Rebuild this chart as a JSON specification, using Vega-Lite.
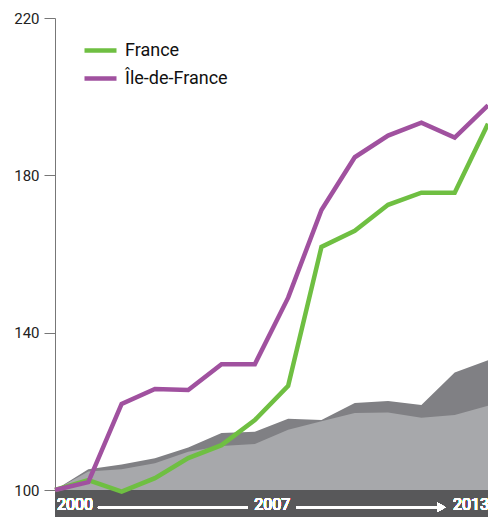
{
  "$schema": "https://vega.github.io/schema/vega-lite/v6.json",
  "width": 433,
  "height": 499,
  "autosize": {"type": "none"},
  "padding": {"left": 55, "top": 18, "right": 0, "bottom": 0},
  "background": "white",
  "config": {"view": {"stroke": null}, "font": "Roboto"},
  "data": {
    "values": [
      {"year": 2000, "series": "upper", "value": 100},
      {"year": 2001, "series": "upper", "value": 105.3},
      {"year": 2002, "series": "upper", "value": 106.5},
      {"year": 2003, "series": "upper", "value": 108.1},
      {"year": 2004, "series": "upper", "value": 110.8},
      {"year": 2005, "series": "upper", "value": 114.5},
      {"year": 2006, "series": "upper", "value": 114.8},
      {"year": 2007, "series": "upper", "value": 118.1},
      {"year": 2008, "series": "upper", "value": 117.8},
      {"year": 2009, "series": "upper", "value": 122.1},
      {"year": 2010, "series": "upper", "value": 122.6},
      {"year": 2011, "series": "upper", "value": 121.6},
      {"year": 2012, "series": "upper", "value": 129.9},
      {"year": 2013, "series": "upper", "value": 133.0},
      {"year": 2000, "series": "lower", "value": 100},
      {"year": 2001, "series": "lower", "value": 104.7},
      {"year": 2002, "series": "lower", "value": 105.3},
      {"year": 2003, "series": "lower", "value": 106.8},
      {"year": 2004, "series": "lower", "value": 109.7},
      {"year": 2005, "series": "lower", "value": 111.2},
      {"year": 2006, "series": "lower", "value": 111.7},
      {"year": 2007, "series": "lower", "value": 115.3},
      {"year": 2008, "series": "lower", "value": 117.5},
      {"year": 2009, "series": "lower", "value": 119.6},
      {"year": 2010, "series": "lower", "value": 119.7},
      {"year": 2011, "series": "lower", "value": 118.4},
      {"year": 2012, "series": "lower", "value": 119.1},
      {"year": 2013, "series": "lower", "value": 121.4},
      {"year": 2000, "series": "France", "value": 100},
      {"year": 2001, "series": "France", "value": 102.5},
      {"year": 2002, "series": "France", "value": 99.6},
      {"year": 2003, "series": "France", "value": 103},
      {"year": 2004, "series": "France", "value": 108.1},
      {"year": 2005, "series": "France", "value": 111.4},
      {"year": 2006, "series": "France", "value": 117.8},
      {"year": 2007, "series": "France", "value": 126.5},
      {"year": 2008, "series": "France", "value": 161.8},
      {"year": 2009, "series": "France", "value": 165.9},
      {"year": 2010, "series": "France", "value": 172.5},
      {"year": 2011, "series": "France", "value": 175.6},
      {"year": 2012, "series": "France", "value": 175.6},
      {"year": 2013, "series": "France", "value": 193.1},
      {"year": 2000, "series": "Île-de-France", "value": 100},
      {"year": 2001, "series": "Île-de-France", "value": 102},
      {"year": 2002, "series": "Île-de-France", "value": 121.9},
      {"year": 2003, "series": "Île-de-France", "value": 125.7},
      {"year": 2004, "series": "Île-de-France", "value": 125.4},
      {"year": 2005, "series": "Île-de-France", "value": 132},
      {"year": 2006, "series": "Île-de-France", "value": 132},
      {"year": 2007, "series": "Île-de-France", "value": 148.9},
      {"year": 2008, "series": "Île-de-France", "value": 171.2},
      {"year": 2009, "series": "Île-de-France", "value": 184.6},
      {"year": 2010, "series": "Île-de-France", "value": 190.1},
      {"year": 2011, "series": "Île-de-France", "value": 193.4},
      {"year": 2012, "series": "Île-de-France", "value": 189.6},
      {"year": 2013, "series": "Île-de-France", "value": 197.8}
    ]
  },
  "encoding": {
    "x": {"field": "year", "type": "quantitative", "scale": {"domain": [2000, 2013], "nice": false, "zero": false}, "axis": null},
    "y": {
      "field": "value", "type": "quantitative",
      "scale": {"domain": [93.136, 220], "nice": false, "zero": false},
      "axis": {
        "title": null, "values": [100, 140, 180, 220], "grid": false,
        "tickSize": 11, "tickColor": "#777777", "domainColor": "#777777",
        "labelFontSize": 15, "labelColor": "#222222", "labelPadding": 5,
        "labelFont": "Roboto"
      }
    }
  },
  "layer": [
    {
      "transform": [{"filter": "datum.series === 'upper'"}],
      "mark": {"type": "area", "color": "#808084", "opacity": 1},
      "encoding": {"y2": {"datum": 100}}
    },
    {
      "transform": [{"filter": "datum.series === 'lower'"}],
      "mark": {"type": "area", "color": "#a7a8ab", "opacity": 1},
      "encoding": {"y2": {"datum": 100}}
    },
    {
      "mark": {"type": "rect", "color": "#58585a"},
      "encoding": {
        "x": {"datum": 2000}, "x2": {"datum": 2013},
        "y": {"datum": 100}, "y2": {"datum": 93.136}
      }
    },
    {
      "transform": [{"filter": "datum.series === 'France' || datum.series === 'Île-de-France'"}],
      "mark": {"type": "line", "strokeWidth": 4.5, "strokeJoin": "miter", "strokeCap": "butt"},
      "encoding": {
        "color": {
          "field": "series", "type": "nominal",
          "scale": {"domain": ["France", "Île-de-France"], "range": ["#6fbf42", "#a0519f"]},
          "legend": {
            "title": null, "orient": "none", "legendX": 27, "legendY": 14,
            "symbolType": "stroke", "symbolSize": 1024, "symbolStrokeWidth": 4.5,
            "labelFontSize": 18, "labelFont": "Roboto", "labelColor": "#111111",
            "labelOffset": 6, "rowPadding": -9, "padding": 0
          }
        },
        "order": {"field": "series"}
      }
    },
    {
      "mark": {"type": "rule", "color": "white", "strokeWidth": 2},
      "encoding": {
        "x": {"datum": 2001.29}, "x2": {"datum": 2005.78},
        "y": {"datum": 95.6}
      }
    },
    {
      "mark": {"type": "rule", "color": "white", "strokeWidth": 2},
      "encoding": {
        "x": {"datum": 2007.25}, "x2": {"datum": 2011.5},
        "y": {"datum": 95.6}
      }
    },
    {
      "mark": {"type": "point", "shape": "triangle-right", "filled": true, "color": "white", "opacity": 1, "size": 90},
      "encoding": {
        "x": {"datum": 2011.6},
        "y": {"datum": 95.6}
      }
    },
    {
      "mark": {"type": "text", "color": "white", "fontSize": 16, "fontWeight": "normal", "font": "Roboto", "align": "left", "baseline": "middle", "dx": 2},
      "encoding": {"x": {"datum": 2000}, "y": {"datum": 96.2}, "text": {"value": "2000"}}
    },
    {
      "mark": {"type": "text", "color": "white", "fontSize": 16, "fontWeight": "normal", "font": "Roboto", "align": "center", "baseline": "middle", "dx": -16},
      "encoding": {"x": {"datum": 2007}, "y": {"datum": 96.2}, "text": {"value": "2007"}}
    },
    {
      "mark": {"type": "text", "color": "white", "fontSize": 16, "fontWeight": "normal", "font": "Roboto", "align": "right", "baseline": "middle", "dx": 1},
      "encoding": {"x": {"datum": 2013}, "y": {"datum": 96.2}, "text": {"value": "2013"}}
    }
  ]
}
